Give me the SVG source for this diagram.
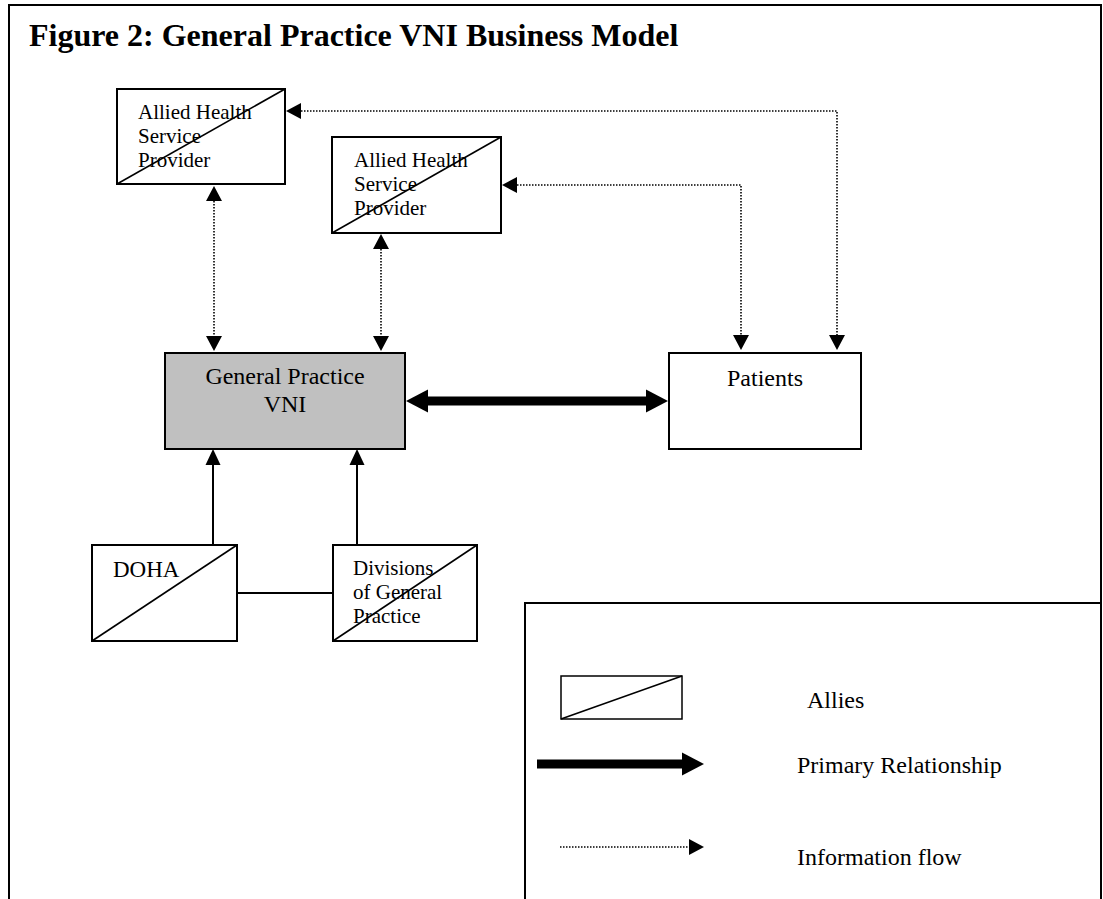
<svg xmlns="http://www.w3.org/2000/svg" width="1103" height="899" viewBox="0 0 1103 899">
<defs>
<style>
text{font-family:"Liberation Serif","Times New Roman",serif;fill:#000}
.title{font-size:32px;font-weight:bold}
.t21{font-size:21px}
.t23{font-size:23px}
.t24{font-size:24px}
.box{fill:#fff;stroke:#000;stroke-width:2}
.diag{stroke:#000;stroke-width:1.6;fill:none}
.dot{stroke:#000;stroke-width:1.6;stroke-dasharray:1.5 1.5;fill:none}
.thick{stroke:#000;stroke-width:9;fill:none}
.solid{stroke:#000;stroke-width:2;fill:none}
</style>
<marker id="dotHead" markerUnits="userSpaceOnUse" markerWidth="16" markerHeight="16" refX="0" refY="8" orient="auto-start-reverse" overflow="visible">
<path d="M0,0 L15,8 L0,16 Z" fill="#000"/>
</marker>
<marker id="thickHead" markerUnits="userSpaceOnUse" markerWidth="23" markerHeight="24" refX="0" refY="11.5" orient="auto-start-reverse" overflow="visible">
<path d="M0,0 L22,11.5 L0,23 Z" fill="#000"/>
</marker>
<marker id="solidHead" markerUnits="userSpaceOnUse" markerWidth="16" markerHeight="16" refX="0" refY="7.5" orient="auto" overflow="visible">
<path d="M0,0 L16,7.5 L0,15 Z" fill="#000"/>
</marker>
</defs>

<rect x="0" y="0" width="1103" height="899" fill="#fff"/>

<g id="frame">
<path d="M9,899 V5 H1101 V899" fill="none" stroke="#000" stroke-width="2"/>
<text class="title" x="29" y="46">Figure 2: General Practice VNI Business Model</text>
</g>

<g id="connectors">
<line class="dot" x1="214" y1="201" x2="214" y2="336" marker-start="url(#dotHead)" marker-end="url(#dotHead)"/>
<line class="dot" x1="381" y1="249" x2="381" y2="336" marker-start="url(#dotHead)" marker-end="url(#dotHead)"/>
<path class="dot" d="M301,111 H837 V335" marker-start="url(#dotHead)" marker-end="url(#dotHead)"/>
<path class="dot" d="M517,185 H741 V335" marker-start="url(#dotHead)" marker-end="url(#dotHead)"/>
<line class="thick" x1="428" y1="401" x2="646" y2="401" marker-start="url(#thickHead)" marker-end="url(#thickHead)"/>
<line class="solid" x1="213" y1="545" x2="213" y2="465" marker-end="url(#solidHead)"/>
<line class="solid" x1="357" y1="545" x2="357" y2="465" marker-end="url(#solidHead)"/>
<line class="solid" x1="237" y1="593" x2="333" y2="593"/>
</g>

<g id="ahsp1">
<rect class="box" x="117" y="89" width="168" height="95"/>
<line class="diag" x1="117" y1="184" x2="285" y2="89"/>
<text class="t21" x="138" y="119">Allied Health</text>
<text class="t21" x="138" y="143">Service</text>
<text class="t21" x="138" y="167">Provider</text>
</g>

<g id="ahsp2">
<rect class="box" x="332" y="137" width="169" height="96"/>
<line class="diag" x1="332" y1="233" x2="501" y2="137"/>
<text class="t21" x="354" y="167">Allied Health</text>
<text class="t21" x="354" y="191">Service</text>
<text class="t21" x="354" y="215">Provider</text>
</g>

<g id="gp-vni">
<rect x="165" y="353" width="240" height="96" fill="#c0c0c0" stroke="#000" stroke-width="2"/>
<text class="t24" x="285" y="384" text-anchor="middle">General Practice</text>
<text class="t24" x="285" y="412" text-anchor="middle">VNI</text>
</g>

<g id="patients">
<rect class="box" x="669" y="353" width="192" height="96"/>
<text class="t24" x="765" y="386" text-anchor="middle">Patients</text>
</g>

<g id="doha">
<rect class="box" x="92" y="545" width="145" height="96"/>
<line class="diag" x1="92" y1="641" x2="237" y2="545"/>
<text class="t23" x="113" y="577">DOHA</text>
</g>

<g id="divisions">
<rect class="box" x="333" y="545" width="144" height="96"/>
<line class="diag" x1="333" y1="641" x2="477" y2="545"/>
<text class="t21" x="353" y="575">Divisions</text>
<text class="t21" x="353" y="599">of General</text>
<text class="t21" x="353" y="623">Practice</text>
</g>

<g id="legend">
<path d="M525,899 V603 H1101" fill="none" stroke="#000" stroke-width="2"/>
<rect x="561" y="676" width="121" height="43" fill="#fff" stroke="#000" stroke-width="1.5"/>
<line x1="561" y1="719" x2="682" y2="676" stroke="#000" stroke-width="1.5"/>
<text class="t24" x="807" y="708">Allies</text>
<line class="thick" x1="537" y1="764" x2="682" y2="764" marker-end="url(#thickHead)"/>
<text class="t24" x="797" y="773">Primary Relationship</text>
<line class="dot" x1="560" y1="847" x2="689" y2="847" marker-end="url(#dotHead)"/>
<text class="t24" x="797" y="865">Information flow</text>
</g>
</svg>
